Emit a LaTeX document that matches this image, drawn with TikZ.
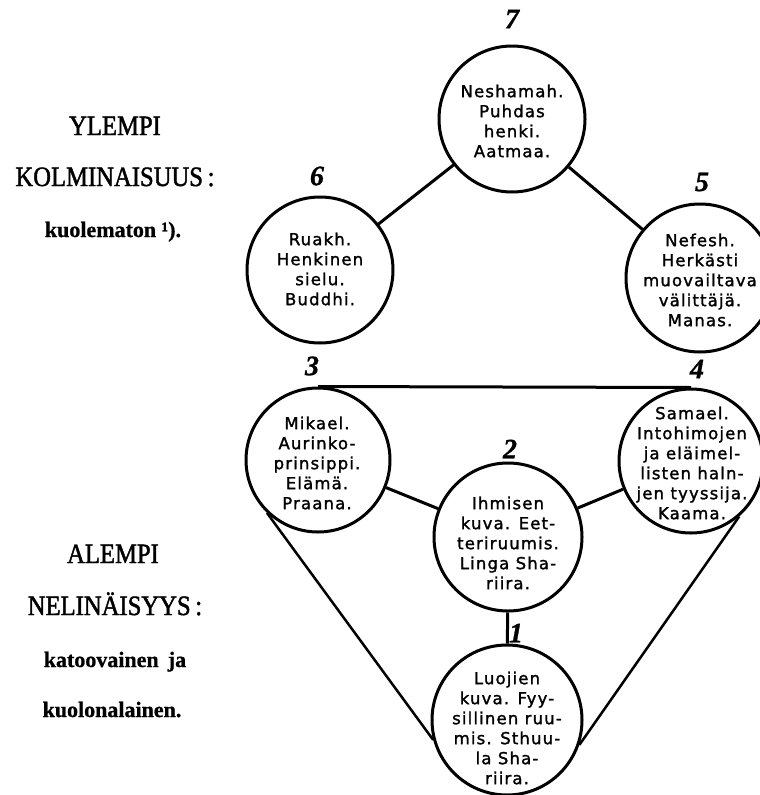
\documentclass[tikz,border=0pt]{standalone}
\usepackage{fontspec}
\newfontfamily\circfont[LetterSpace=7,FakeBold=1.5]{DejaVu Sans}
\newfontfamily\headfont[FakeStretch=0.88,FakeBold=1.5]{Liberation Serif}
\newfontfamily\subfont[FakeBold=0.8]{Liberation Serif}
\newfontfamily\numfont[FakeBold=1]{Liberation Serif}
\begin{document}
\begin{tikzpicture}[x=1pt,y=-1pt,
  ring/.style={draw,circle,line width=3pt,inner sep=0pt,minimum size=#1},
  ctext/.style={align=center,font=\circfont\fontsize{16.5}{20}\selectfont,inner sep=0pt},
  num/.style={font=\numfont\bfseries\itshape\fontsize{28}{28}\selectfont,inner sep=0pt},
  head/.style={anchor=base,font=\headfont\fontsize{28}{28}\selectfont,inner sep=0pt},
  sub/.style={anchor=base,font=\subfont\bfseries\fontsize{22}{22}\selectfont,inner sep=0pt},
  link/.style={line width=3pt},
  side/.style={line width=2.5pt}]
\useasboundingbox (0,0) rectangle (760,795);
\fill[white] (0,0) rectangle (760,795);
% circles
\node[ring=146pt] (c7) at (512,119) {};
\node[ring=146pt] (c6) at (320,270) {};
\node[ring=148pt] (c5) at (700,278) {};
\node[ring=144pt] (c3) at (318,460) {};
\node[ring=144pt] (c4) at (691,461) {};
\node[ring=148pt] (c2) at (508,537) {};
\node[ring=150pt] (c1) at (507,720) {};
% texts
\node[ctext] (t7) at (512,121) {Neshamah.\\Puhdas\\henki.\\Aatmaa.};
\node[ctext] (t6) at (320,269) {Ruakh.\\Henkinen\\sielu.\\Buddhi.};
\node[ctext] (t5) at (700,280) {Nefesh.\\Herkästi\\muovailtava\\välittäjä.\\Manas.};
\node[ctext] (t3) at (317,463) {Mikael.\\Aurinko-\\prinsippi.\\Elämä.\\Praana.};
\node[ctext] (t4) at (692,463) {Samael.\\Intohimojen\\ja eläimel-\\listen haln-\\jen tyyssija.\\Kaama.};
\node[ctext] (t2) at (508,543) {Ihmisen\\kuva. Eet-\\teriruumis.\\Linga Sha-\\riira.};
\node[ctext] (t1) at (507,728) {Luojien\\kuva. Fyy-\\sillinen ruu-\\mis. Sthuu-\\la Sha-\\riira.};
% numbers
\node[num] (n7) at (512,19) {7};
\node[num] (n6) at (317,176) {6};
\node[num] (n5) at (702,182) {5};
\node[num] (n3) at (312,366) {3};
\node[num] (n4) at (697,369) {4};
\node[num] (n2) at (510,449) {2};
\node[num] (n1) at (516,633) {1};
% connectors
\draw[link] (c7) -- (c6);
\draw[link] (c7) -- (c5);
\draw[link] (c3) -- (c2);
\draw[link] (c2) -- (c4);
\draw[link] (c2) -- (c1);
\draw[link] (c3.north) -- (c4.north);
\draw[side] (c3.226) -- (c1.195);
\draw[side] (c4.-49) -- (c1.-19);
% left texts
\node[head] (h1) at (115,135) {YLEMPI};
\node[head] (h2) at (115,186) {KOLMINAISUUS\,:};
\node[sub] (s1) at (113,237) {kuolematon ¹).};
\node[head] (h3) at (113,563) {ALEMPI};
\node[head] (h4) at (115,615) {NELINÄISYYS\,:};
\node[sub] (s2) at (115,667) {katoovainen\, ja};
\node[sub] (s3) at (112,717) {kuolonalainen.};
\end{tikzpicture}
\end{document}
